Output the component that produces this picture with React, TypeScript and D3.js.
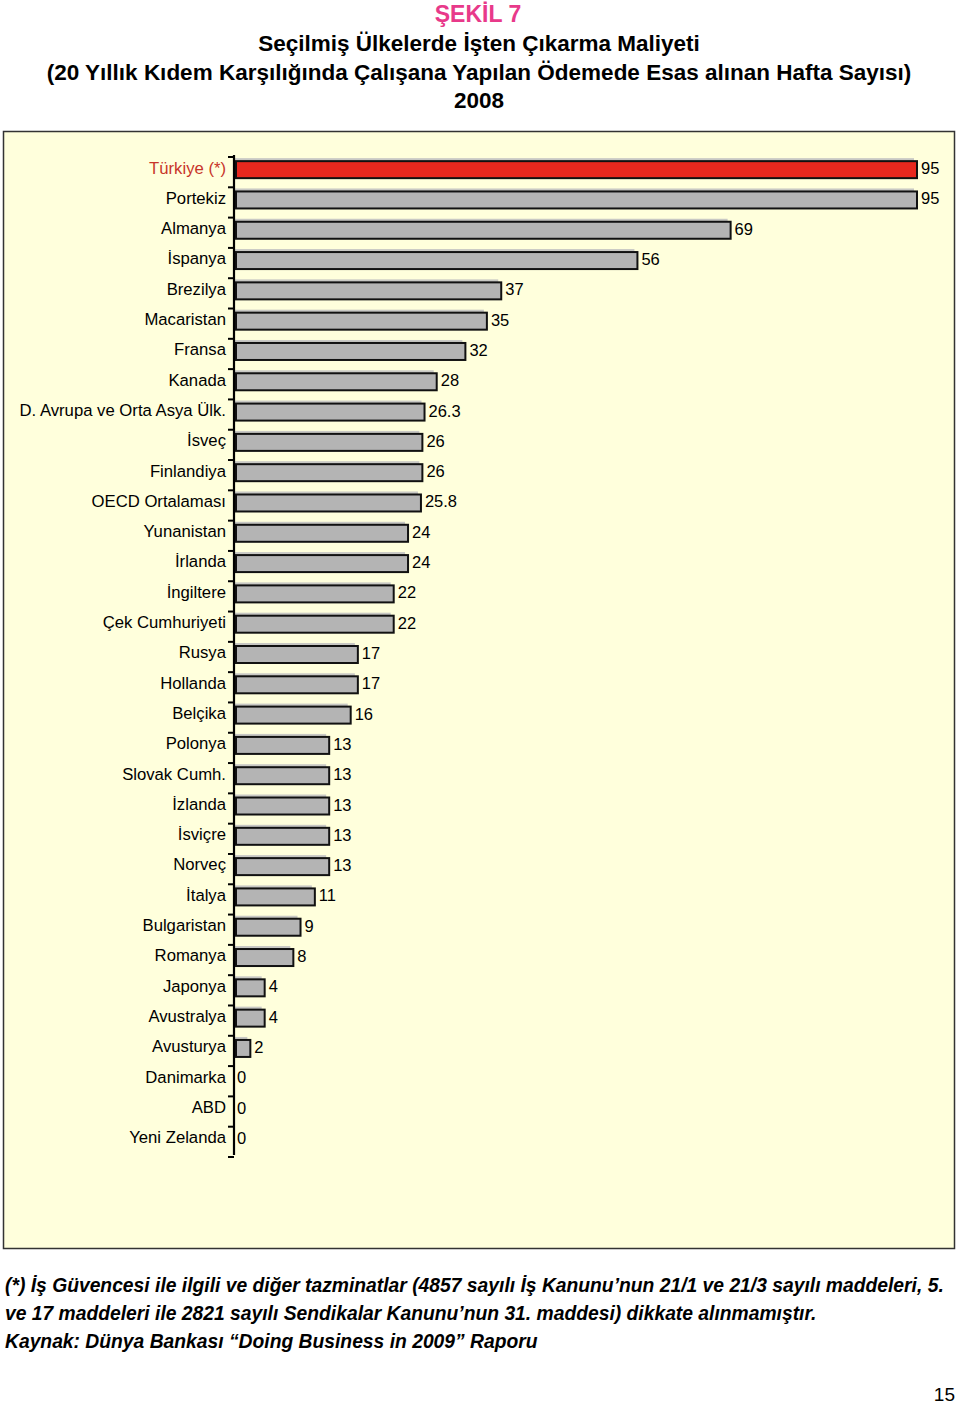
import React, { useEffect, useRef } from 'react';
import * as d3 from 'd3';

const countries = [
  'Türkiye (*)', 'Portekiz', 'Almanya', 'İspanya', 'Brezilya', 'Macaristan', 'Fransa', 'Kanada',
  'D. Avrupa ve Orta Asya Ülk.', 'İsveç', 'Finlandiya', 'OECD Ortalaması', 'Yunanistan', 'İrlanda',
  'İngiltere', 'Çek Cumhuriyeti', 'Rusya', 'Hollanda', 'Belçika', 'Polonya', 'Slovak Cumh.', 'İzlanda',
  'İsviçre', 'Norveç', 'İtalya', 'Bulgaristan', 'Romanya', 'Japonya', 'Avustralya', 'Avusturya',
  'Danimarka', 'ABD', 'Yeni Zelanda',
];
const weeks = [
  95, 95, 69, 56, 37, 35, 32, 28, 26.3, 26, 26, 25.8, 24, 24, 22, 22, 17, 17, 16,
  13, 13, 13, 13, 13, 11, 9, 8, 4, 4, 2, 0, 0, 0,
];
const valueLabels = [
  '95', '95', '69', '56', '37', '35', '32', '28', '26.3', '26', '26', '25.8', '24', '24', '22', '22',
  '17', '17', '16', '13', '13', '13', '13', '13', '11', '9', '8', '4', '4', '2', '0', '0', '0',
];
const highlight = 'Türkiye (*)';

const titleLines = [
  'Seçilmiş Ülkelerde İşten Çıkarma Maliyeti',
  '(20 Yıllık Kıdem Karşılığında Çalışana Yapılan Ödemede Esas alınan Hafta Sayısı)',
  '2008',
];
const notes = [
  '(*) İş Güvencesi ile ilgili ve diğer tazminatlar (4857 sayılı İş Kanunu’nun 21/1 ve 21/3 sayılı maddeleri, 5.',
  've 17 maddeleri ile 2821 sayılı Sendikalar Kanunu’nun 31. maddesi) dikkate alınmamıştır.',
  'Kaynak: Dünya Bankası “Doing Business in 2009” Raporu',
];

const FONT = '"Liberation Sans", Arial, Helvetica, sans-serif';

const App = () => {
  const ref = useRef<SVGSVGElement | null>(null);

  useEffect(() => {
    document.body.style.margin = '0';
    const svg = d3.select(ref.current);
    svg.selectAll('*').remove();

    // titles
    svg.append('text')
      .attr('x', 478).attr('y', 22)
      .attr('text-anchor', 'middle')
      .attr('font-family', FONT).attr('font-weight', 'bold').attr('font-size', 23)
      .attr('fill', '#e8398a')
      .text('ŞEKİL 7');
    svg.selectAll('.title')
      .data(titleLines)
      .enter().append('text')
      .attr('x', 479)
      .attr('y', (_, i) => 51 + i * 28.5)
      .attr('text-anchor', 'middle')
      .attr('font-family', FONT).attr('font-weight', 'bold').attr('font-size', 22.5)
      .attr('fill', '#000')
      .text(d => d);

    // panel
    svg.append('rect')
      .attr('x', 3.5).attr('y', 131.5)
      .attr('width', 951).attr('height', 1117)
      .attr('fill', '#ffffdc')
      .attr('stroke', '#333').attr('stroke-width', 1.5);

    const x = d3.scaleLinear().domain([0, 95]).range([236, 917]);
    const y = d3.scaleBand().domain(countries).range([153, 1153]).paddingInner(0);
    const bh = 18;

    const g = svg.append('g');

    // shadow bars
    g.selectAll('.shadow')
      .data(countries)
      .enter().append('rect')
      .attr('x', x(0) - 3)
      .attr('y', d => (y(d) as number) + y.bandwidth() / 2 - bh / 2 - 1)
      .attr('width', (_, i) => Math.max(0, x(weeks[i]) - x(0)))
      .attr('height', bh)
      .attr('fill', '#c8c8c4')
      .attr('opacity', (_, i) => (weeks[i] > 0 ? 1 : 0));

    // front bars
    g.selectAll('.bar')
      .data(countries)
      .enter().filter((_, i) => weeks[i] > 0).append('rect')
      .attr('x', x(0))
      .attr('y', d => (y(d) as number) + y.bandwidth() / 2 - bh / 2 + 2)
      .attr('width', d => x(weeks[countries.indexOf(d)]) - x(0))
      .attr('height', bh - 1)
      .attr('fill', d => (d === highlight ? '#e8281e' : '#b4b4b4'))
      .attr('stroke', '#111').attr('stroke-width', 2);

    // value labels
    g.selectAll('.val')
      .data(countries)
      .enter().append('text')
      .attr('x', (_, i) => x(weeks[i]) + (weeks[i] > 0 ? 4 : 1))
      .attr('y', d => (y(d) as number) + y.bandwidth() / 2 + 6)
      .attr('font-family', FONT).attr('font-size', 16.5)
      .attr('fill', '#000')
      .text((_, i) => valueLabels[i]);

    // axis
    const axis = svg.append('g')
      .attr('transform', 'translate(234,0)')
      .call(d3.axisLeft(y).tickSize(0).tickPadding(8));
    axis.select('.domain').remove();
    axis.selectAll('text')
      .attr('font-family', FONT).attr('font-size', 16.7)
      .attr('fill', d => (d === highlight ? '#c8352a' : '#000'))
      .attr('dy', '0.32em');

    svg.append('line')
      .attr('x1', 234).attr('x2', 234)
      .attr('y1', 155).attr('y2', 1155)
      .attr('stroke', '#000').attr('stroke-width', 2.2);
    const bounds = countries.map(d => y(d) as number).concat([y.range()[1]]);
    svg.selectAll('.tk')
      .data(bounds)
      .enter().append('line')
      .attr('x1', 228).attr('x2', 234)
      .attr('y1', d => d + 4).attr('y2', d => d + 4)
      .attr('stroke', '#000').attr('stroke-width', 2);

    // notes
    svg.selectAll('.note')
      .data(notes)
      .enter().append('text')
      .attr('x', 5)
      .attr('y', (_, i) => 1292 + i * 28)
      .attr('font-family', FONT).attr('font-weight', 'bold').attr('font-style', 'italic')
      .attr('font-size', 19.3)
      .attr('fill', '#000')
      .text(d => d);

    svg.append('text')
      .attr('x', 955).attr('y', 1401)
      .attr('text-anchor', 'end')
      .attr('font-family', FONT).attr('font-size', 19)
      .attr('fill', '#000')
      .text('15');
  }, []);

  return <svg ref={ref} width={960} height={1407} style={{ display: 'block', background: '#fff' }} />;
};

export default App;
